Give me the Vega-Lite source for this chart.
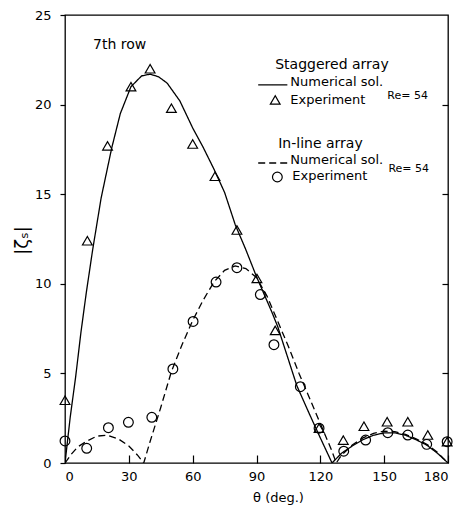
{
  "$schema": "https://vega.github.io/schema/vega-lite/v6.json",
  "autosize": "none",
  "width": 383,
  "height": 448,
  "padding": {"left": 65, "top": 15, "right": 12, "bottom": 50},
  "background": "white",
  "config": {
    "view": {"stroke": "black", "strokeWidth": 1.3},
    "font": "DejaVu Sans",
    "axis": {"labelFont": "DejaVu Sans", "titleFont": "DejaVu Sans", "labelColor": "black", "titleColor": "black", "tickColor": "black", "domainColor": "black", "grid": false}
  },
  "datasets": {
    "curves": [
      {"series": "staggered", "theta": 0, "value": 0},
      {"series": "staggered", "theta": 2.5, "value": 2.6},
      {"series": "staggered", "theta": 5, "value": 4.8},
      {"series": "staggered", "theta": 7.5, "value": 7.3},
      {"series": "staggered", "theta": 10, "value": 9.5},
      {"series": "staggered", "theta": 13, "value": 11.9},
      {"series": "staggered", "theta": 17, "value": 14.8},
      {"series": "staggered", "theta": 22, "value": 17.6},
      {"series": "staggered", "theta": 26, "value": 19.5},
      {"series": "staggered", "theta": 31, "value": 21.0},
      {"series": "staggered", "theta": 36, "value": 21.6},
      {"series": "staggered", "theta": 40, "value": 21.7},
      {"series": "staggered", "theta": 44, "value": 21.55},
      {"series": "staggered", "theta": 48, "value": 21.2},
      {"series": "staggered", "theta": 54, "value": 20.2},
      {"series": "staggered", "theta": 60, "value": 18.7},
      {"series": "staggered", "theta": 65, "value": 17.6},
      {"series": "staggered", "theta": 70, "value": 16.4},
      {"series": "staggered", "theta": 75, "value": 15.1},
      {"series": "staggered", "theta": 80, "value": 13.3},
      {"series": "staggered", "theta": 85, "value": 11.9},
      {"series": "staggered", "theta": 90, "value": 10.4},
      {"series": "staggered", "theta": 97.3, "value": 8.4},
      {"series": "staggered", "theta": 100, "value": 7.6},
      {"series": "staggered", "theta": 109, "value": 4.3},
      {"series": "staggered", "theta": 115, "value": 2.7},
      {"series": "staggered", "theta": 120, "value": 1.4},
      {"series": "staggered", "theta": 125.5, "value": 0},
      {"series": "staggered", "theta": 130, "value": 0.55},
      {"series": "staggered", "theta": 135, "value": 0.95},
      {"series": "staggered", "theta": 140, "value": 1.3},
      {"series": "staggered", "theta": 145, "value": 1.55},
      {"series": "staggered", "theta": 150, "value": 1.68},
      {"series": "staggered", "theta": 155, "value": 1.68},
      {"series": "staggered", "theta": 160, "value": 1.55},
      {"series": "staggered", "theta": 165, "value": 1.3},
      {"series": "staggered", "theta": 170, "value": 1.0},
      {"series": "staggered", "theta": 175, "value": 0.55},
      {"series": "staggered", "theta": 180, "value": 0},
      {"series": "inline", "theta": 0, "value": 0},
      {"series": "inline", "theta": 3, "value": 0.5},
      {"series": "inline", "theta": 6, "value": 0.9},
      {"series": "inline", "theta": 10, "value": 1.2},
      {"series": "inline", "theta": 15, "value": 1.5},
      {"series": "inline", "theta": 20, "value": 1.55},
      {"series": "inline", "theta": 25, "value": 1.35},
      {"series": "inline", "theta": 30, "value": 0.95},
      {"series": "inline", "theta": 34, "value": 0.45},
      {"series": "inline", "theta": 37, "value": 0},
      {"series": "inline", "theta": 40, "value": 1.2},
      {"series": "inline", "theta": 45, "value": 3.1},
      {"series": "inline", "theta": 50, "value": 5.1},
      {"series": "inline", "theta": 55, "value": 6.6},
      {"series": "inline", "theta": 60, "value": 7.95},
      {"series": "inline", "theta": 65, "value": 9.1},
      {"series": "inline", "theta": 70, "value": 10.1},
      {"series": "inline", "theta": 75, "value": 10.75},
      {"series": "inline", "theta": 80, "value": 11.0},
      {"series": "inline", "theta": 85, "value": 10.85},
      {"series": "inline", "theta": 90, "value": 10.35},
      {"series": "inline", "theta": 95, "value": 9.3},
      {"series": "inline", "theta": 100, "value": 7.9},
      {"series": "inline", "theta": 105, "value": 6.5},
      {"series": "inline", "theta": 110, "value": 5.0},
      {"series": "inline", "theta": 115, "value": 3.6},
      {"series": "inline", "theta": 120, "value": 2.2},
      {"series": "inline", "theta": 125, "value": 0.8},
      {"series": "inline", "theta": 127.5, "value": 0},
      {"series": "inline", "theta": 130, "value": 0.45},
      {"series": "inline", "theta": 135, "value": 1.0},
      {"series": "inline", "theta": 140, "value": 1.4},
      {"series": "inline", "theta": 145, "value": 1.65},
      {"series": "inline", "theta": 150, "value": 1.78},
      {"series": "inline", "theta": 155, "value": 1.75},
      {"series": "inline", "theta": 160, "value": 1.6},
      {"series": "inline", "theta": 165, "value": 1.35},
      {"series": "inline", "theta": 170, "value": 1.05},
      {"series": "inline", "theta": 175, "value": 0.6},
      {"series": "inline", "theta": 180, "value": 0}
    ],
    "legendLines": [
      {"series": "staggered", "theta": 90.8, "value": 21.1},
      {"series": "staggered", "theta": 104.5, "value": 21.1},
      {"series": "inline", "theta": 90.8, "value": 16.74},
      {"series": "inline", "theta": 104.5, "value": 16.74}
    ],
    "points": [
      {"series": "staggered", "theta": 0, "value": 3.5},
      {"series": "staggered", "theta": 10.5, "value": 12.4},
      {"series": "staggered", "theta": 20, "value": 17.7},
      {"series": "staggered", "theta": 31, "value": 21.0},
      {"series": "staggered", "theta": 40, "value": 22.0},
      {"series": "staggered", "theta": 50, "value": 19.8},
      {"series": "staggered", "theta": 60, "value": 17.8},
      {"series": "staggered", "theta": 70.5, "value": 16.0},
      {"series": "staggered", "theta": 80.8, "value": 13.0},
      {"series": "staggered", "theta": 90.2, "value": 10.3},
      {"series": "staggered", "theta": 98.8, "value": 7.4},
      {"series": "staggered", "theta": 119.4, "value": 1.95},
      {"series": "staggered", "theta": 130.8, "value": 1.28},
      {"series": "staggered", "theta": 140.5, "value": 2.05},
      {"series": "staggered", "theta": 151.4, "value": 2.3},
      {"series": "staggered", "theta": 161.1, "value": 2.3},
      {"series": "staggered", "theta": 170.5, "value": 1.56},
      {"series": "staggered", "theta": 179.6, "value": 1.19},
      {"series": "inline", "theta": 0, "value": 1.23},
      {"series": "inline", "theta": 10.2, "value": 0.82},
      {"series": "inline", "theta": 20.4, "value": 1.97},
      {"series": "inline", "theta": 29.8, "value": 2.27},
      {"series": "inline", "theta": 40.8, "value": 2.55},
      {"series": "inline", "theta": 50.7, "value": 5.25},
      {"series": "inline", "theta": 60.2, "value": 7.9},
      {"series": "inline", "theta": 71, "value": 10.1},
      {"series": "inline", "theta": 80.8, "value": 10.9},
      {"series": "inline", "theta": 91.8, "value": 9.4},
      {"series": "inline", "theta": 98.2, "value": 6.6},
      {"series": "inline", "theta": 110.6, "value": 4.26},
      {"series": "inline", "theta": 119.4, "value": 1.94},
      {"series": "inline", "theta": 131, "value": 0.66},
      {"series": "inline", "theta": 141.3, "value": 1.28},
      {"series": "inline", "theta": 151.7, "value": 1.69},
      {"series": "inline", "theta": 161.1, "value": 1.56},
      {"series": "inline", "theta": 170, "value": 1.04},
      {"series": "inline", "theta": 179.6, "value": 1.19}
    ],
    "legendSymbols": [
      {"series": "staggered", "theta": 98.8, "value": 20.26},
      {"series": "inline", "theta": 99.8, "value": 15.96}
    ],
    "labels": [
      {"text": "7th row", "theta": 13.2, "value": 23.3, "role": "heading"},
      {"text": "Staggered array", "theta": 98.8, "value": 22.2, "role": "heading"},
      {"text": "Numerical sol.", "theta": 105.9, "value": 21.26, "role": "item"},
      {"text": "Experiment", "theta": 105.9, "value": 20.26, "role": "item"},
      {"text": "Re= 54", "theta": 151.5, "value": 20.5, "role": "note"},
      {"text": "In-line array", "theta": 100.2, "value": 17.8, "role": "heading"},
      {"text": "Numerical sol.", "theta": 105.9, "value": 16.9, "role": "item"},
      {"text": "Experiment", "theta": 106.8, "value": 16.0, "role": "item"},
      {"text": "Re= 54", "theta": 152, "value": 16.4, "role": "note"}
    ]
  },
  "encoding": {
    "x": {"field": "theta", "type": "quantitative", "scale": {"domain": [0, 180], "nice": false, "zero": false},
          "axis": {"values": [0, 30, 60, 90, 120, 150, 180], "title": "θ (deg.)", "labelFontSize": 13, "tickSize": -8, "tickWidth": 1.2, "labelPadding": 15, "domain": false, "titleFontSize": 13, "titleFontWeight": "normal", "titleX": 213, "titleY": 34, "titleBaseline": "middle", "titleAlign": "center"}}
  },
  "resolve": {"scale": {"y": "shared"}, "axis": {"y": "independent"}},
  "layer": [
    {
      "data": {"name": "curves"},
      "mark": {"type": "line", "color": "black", "strokeWidth": 1.3, "clip": true},
      "encoding": {
        "y": {"field": "value", "type": "quantitative", "scale": {"domain": [0, 25], "nice": false},
              "axis": {"orient": "left", "values": [0, 5, 10, 15, 20, 25], "title": "|ζₛ|", "labelFontSize": 13, "tickSize": 5, "tickWidth": 1.2, "labelPadding": 9, "domain": false, "titleFontSize": 18, "titleFontWeight": "normal", "titleX": -43, "titleY": 225, "titleAngle": -90, "titleBaseline": "middle", "titleAlign": "center"}},
        "detail": {"field": "series", "type": "nominal"},
        "strokeDash": {"field": "series", "type": "nominal", "scale": {"domain": ["staggered", "inline"], "range": [[1, 0], [7, 4]]}, "legend": null}
      }
    },
    {
      "data": {"name": "legendLines"},
      "mark": {"type": "line", "color": "black", "strokeWidth": 1.3},
      "encoding": {
        "y": {"field": "value", "type": "quantitative", "axis": null},
        "detail": {"field": "series", "type": "nominal"},
        "strokeDash": {"field": "series", "type": "nominal", "scale": {"domain": ["staggered", "inline"], "range": [[1, 0], [7, 4]]}, "legend": null}
      }
    },
    {
      "data": {"name": "points"},
      "mark": {"type": "point", "filled": false, "color": "black", "strokeWidth": 1.2, "opacity": 1, "size": 95},
      "encoding": {
        "y": {"field": "value", "type": "quantitative",
              "axis": {"orient": "right", "values": [5, 10, 15, 20], "labels": false, "title": null, "tickSize": -6, "tickWidth": 1.2, "domain": false}},
        "shape": {"field": "series", "type": "nominal", "scale": {"domain": ["staggered", "inline"], "range": ["triangle-up", "circle"]}, "legend": null}
      }
    },
    {
      "data": {"name": "legendSymbols"},
      "mark": {"type": "point", "filled": false, "color": "black", "strokeWidth": 1.2, "opacity": 1, "size": 95},
      "encoding": {
        "y": {"field": "value", "type": "quantitative", "axis": null},
        "shape": {"field": "series", "type": "nominal", "scale": {"domain": ["staggered", "inline"], "range": ["triangle-up", "circle"]}, "legend": null}
      }
    },
    {
      "data": {"name": "labels"},
      "transform": [{"filter": "datum.role === 'heading'"}],
      "mark": {"type": "text", "align": "left", "baseline": "middle", "color": "black", "font": "DejaVu Sans", "fontSize": 14},
      "encoding": {
        "y": {"field": "value", "type": "quantitative", "axis": null},
        "text": {"field": "text", "type": "nominal"}
      }
    },
    {
      "data": {"name": "labels"},
      "transform": [{"filter": "datum.role === 'item'"}],
      "mark": {"type": "text", "align": "left", "baseline": "middle", "color": "black", "font": "DejaVu Sans", "fontSize": 13},
      "encoding": {
        "y": {"field": "value", "type": "quantitative", "axis": null},
        "text": {"field": "text", "type": "nominal"}
      }
    },
    {
      "data": {"name": "labels"},
      "transform": [{"filter": "datum.role === 'note'"}],
      "mark": {"type": "text", "align": "left", "baseline": "middle", "color": "black", "font": "DejaVu Sans", "fontSize": 11},
      "encoding": {
        "y": {"field": "value", "type": "quantitative", "axis": null},
        "text": {"field": "text", "type": "nominal"}
      }
    }
  ]
}
